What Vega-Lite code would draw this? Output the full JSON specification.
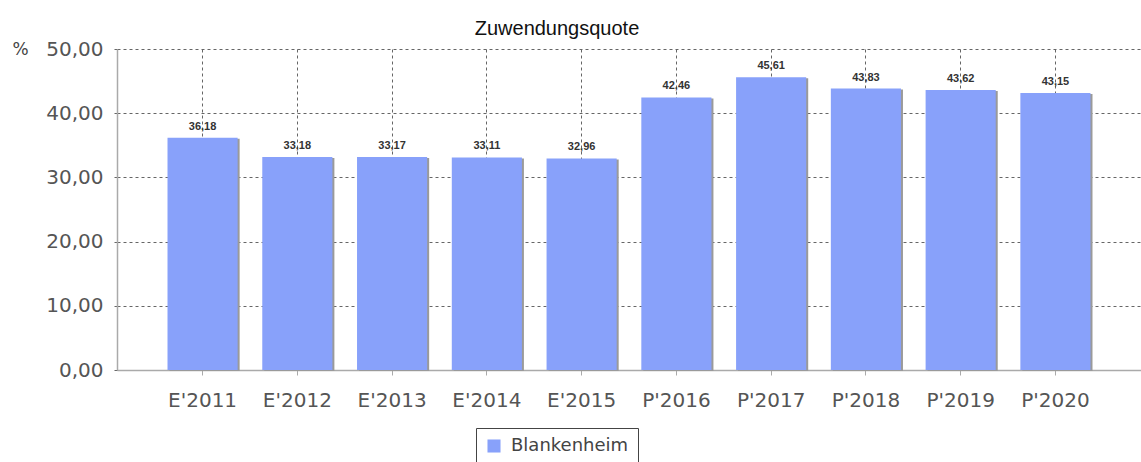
{
  "$schema": "https://vega.github.io/schema/vega-lite/v6.json",
  "width": 1024,
  "height": 321,
  "autosize": "none",
  "padding": {"left": 117, "top": 49, "right": 0, "bottom": 92},
  "background": "white",
  "config": {
    "locale": {"number": {"decimal": ",", "thousands": ".", "grouping": [3], "currency": ["", " €"]}},
    "view": {"stroke": null}
  },
  "title": {
    "text": "Zuwendungsquote",
    "anchor": "middle",
    "frame": "group",
    "dx": -72,
    "offset": 0,
    "font": "Liberation Sans",
    "fontSize": 20,
    "fontWeight": "normal",
    "color": "#111"
  },
  "data": {
    "values": [
      {"jahr": "E'2011", "wert": 36.18, "gemeinde": "Blankenheim"},
      {"jahr": "E'2012", "wert": 33.18, "gemeinde": "Blankenheim"},
      {"jahr": "E'2013", "wert": 33.17, "gemeinde": "Blankenheim"},
      {"jahr": "E'2014", "wert": 33.11, "gemeinde": "Blankenheim"},
      {"jahr": "E'2015", "wert": 32.96, "gemeinde": "Blankenheim"},
      {"jahr": "P'2016", "wert": 42.46, "gemeinde": "Blankenheim"},
      {"jahr": "P'2017", "wert": 45.61, "gemeinde": "Blankenheim"},
      {"jahr": "P'2018", "wert": 43.83, "gemeinde": "Blankenheim"},
      {"jahr": "P'2019", "wert": 43.62, "gemeinde": "Blankenheim"},
      {"jahr": "P'2020", "wert": 43.15, "gemeinde": "Blankenheim"}
    ]
  },
  "encoding": {
    "x": {
      "field": "jahr",
      "type": "nominal",
      "sort": null,
      "scale": {"paddingInner": 0.26, "paddingOuter": 0.533},
      "axis": {
        "title": null,
        "labelAngle": 0,
        "labelFont": "DejaVu Sans",
        "labelFontSize": 20,
        "labelColor": "#555",
        "labelPadding": 15,
        "tickSize": 5,
        "tickColor": "#aaa",
        "domainColor": "#aaa",
        "domainWidth": 1.5,
        "grid": true,
        "gridColor": "#666",
        "gridDash": [3, 3],
        "gridWidth": 1,
        "bandPosition": 0.5
      }
    },
    "y": {
      "field": "wert",
      "type": "quantitative",
      "scale": {"domain": [0, 50], "nice": false},
      "axis": {
        "title": "%",
        "titleAngle": 0,
        "titleX": -97,
        "titleY": 0,
        "titleAlign": "center",
        "titleBaseline": "middle",
        "titleFont": "DejaVu Sans",
        "titleFontSize": 17,
        "titleFontWeight": "normal",
        "titleColor": "#444",
        "values": [0, 10, 20, 30, 40, 50],
        "format": ".2f",
        "labelFont": "DejaVu Sans",
        "labelFontSize": 20,
        "labelColor": "#555",
        "labelPadding": 8,
        "tickSize": 6,
        "tickColor": "#666",
        "tickDash": [3, 3],
        "domainColor": "#aaa",
        "domainWidth": 1.5,
        "grid": true,
        "gridColor": "#666",
        "gridDash": [3, 3],
        "gridWidth": 1
      }
    }
  },
  "layer": [
    {
      "mark": {"type": "bar", "color": "#9a9a9a", "xOffset": 2, "yOffset": 1},
      "encoding": {}
    },
    {
      "mark": {"type": "bar"},
      "encoding": {
        "color": {
          "field": "gemeinde",
          "type": "nominal",
          "scale": {"range": ["#88a1fa"]},
          "legend": {
            "title": null,
            "orient": "none",
            "legendX": 359,
            "legendY": 379,
            "strokeColor": "#444",
            "fillColor": "white",
            "padding": 9,
            "symbolType": "square",
            "symbolSize": 170,
            "symbolStrokeWidth": 0,
            "labelFont": "DejaVu Sans",
            "labelFontSize": 18,
            "labelColor": "#444",
            "labelOffset": 8
          }
        }
      }
    },
    {
      "mark": {"type": "text", "dy": -11, "baseline": "middle", "font": "Liberation Sans", "fontSize": 11, "fontWeight": "bold", "color": "#333"},
      "encoding": {
        "text": {"field": "wert", "type": "quantitative", "format": ".2f"}
      }
    }
  ]
}
